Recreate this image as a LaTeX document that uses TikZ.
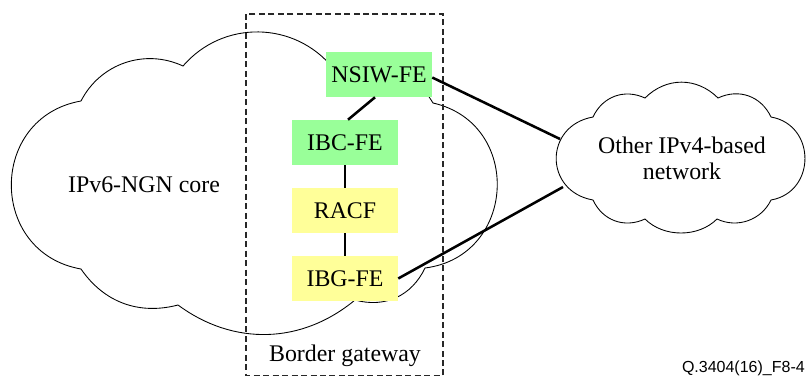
\documentclass[tikz,border=0pt]{standalone}
\usepackage{fontspec}
\setmainfont{Liberation Serif}
\newfontfamily\tagfont{Liberation Sans}
\usetikzlibrary{calc}
\definecolor{feGreen}{RGB}{153,255,153}
\definecolor{feYellow}{RGB}{255,255,153}
\definecolor{dashGray}{RGB}{40,40,40}
\begin{document}
\begin{tikzpicture}[x=0.75pt,y=-0.75pt,
  every node/.style={font=\rmfamily\fontsize{17.9}{19.5}\selectfont},
  febox/.style={minimum width=79.5pt,minimum height=33.75pt,inner sep=0pt},
  greenbox/.style={febox,fill=feGreen},
  yellowbox/.style={febox,fill=feYellow},
  cloudline/.style={draw=black,line width=0.65pt,line join=miter},
  gatebox/.style={draw=dashGray,line width=0.9pt,dash pattern=on 4.5pt off 2.6pt},
  link/.style={draw=black,line width=1.9pt}]
\useasboundingbox (0,0) rectangle (806,376);
% big cloud
\draw[cloudline] (81,269) to[bend left=80,looseness=1.44] (81,101)
  to[bend left=44,looseness=1.0] (183,66)
  to[bend left=50,looseness=1.04] (333,68)
  to[bend left=40,looseness=1.0] (433,103)
  to[bend left=80,looseness=1.43] (425,268)
  to[bend left=40,looseness=1.03] (355,300)
  to[bend left=38,looseness=1.0] (178,305)
  to[bend left=35,looseness=1.0] (81,269) -- cycle;
% small cloud
\draw[cloudline] (593,200) to[bend left=80,looseness=1.54] (593,117)
  to[bend left=45,looseness=1.05] (645,98)
  to[bend left=45,looseness=1.05] (718,98)
  to[bend left=45,looseness=1.05] (771,117)
  to[bend left=80,looseness=1.42] (771,200)
  to[bend left=45,looseness=1.0] (717,219)
  to[bend left=45,looseness=0.94] (645,219)
  to[bend left=45,looseness=1.05] (593,200) -- cycle;
% border gateway box
\draw[gatebox] (246,14) rectangle (443,375.5);
% labels
\node[anchor=base] (core) at (144,192) {IPv6-NGN core};
\node[align=center] (other) at (682,158) {Other IPv4-based\\network};
\node[anchor=base] (bg) at (345,361) {Border gateway};
\node[anchor=base east,inner sep=0pt,font=\tagfont\fontsize{12}{13}\selectfont] (tag) at (805,372.5) {Q.3404(16)\_F8-4};
% functional entities
\node[greenbox] (nsiw) at (379,74.5) {NSIW-FE};
\node[greenbox] (ibc) at (345,142.5) {IBC-FE};
\node[yellowbox] (racf) at (345,210.5) {RACF};
\node[yellowbox] (ibg) at (345,278.5) {IBG-FE};
% attach points on other network cloud
\coordinate (oa) at (560,139);
\coordinate (ob) at (563,187);
% connectors
\draw[link] ($(nsiw.south)+(-4,0)$) -- ($(ibc.north)+(3,0)$);
\draw[link] (ibc.south) -- (racf.north);
\draw[link] (racf.south) -- (ibg.north);
\draw[link] ($(nsiw.east)+(0,3)$) -- (oa);
\draw[link] (ibg.east) -- (ob);
\end{tikzpicture}
\end{document}
